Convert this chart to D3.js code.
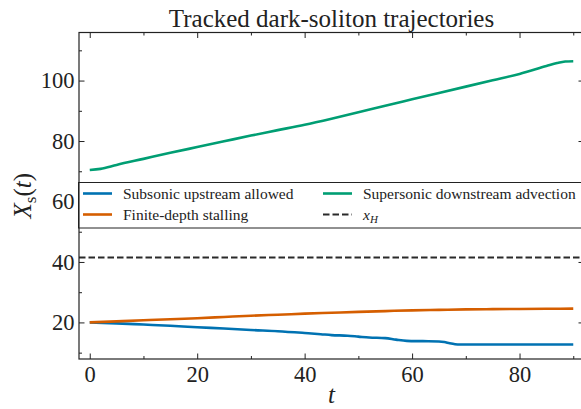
<!DOCTYPE html>
<html>
<head>
<meta charset="utf-8">
<script src="https://cdn.jsdelivr.net/npm/d3@7"></script>
<style>
  body { margin: 0; background: #fff; }
  svg { display: block; }
  text { font-family: "Liberation Serif", "DejaVu Serif", serif; fill: #222; }
</style>
</head>
<body>
<div id="chart"></div>
<script>
// Data
var subsonicT = [0, 5, 10, 15, 20, 25, 30, 35, 40, 43, 45, 48, 50, 52, 55, 57, 59, 62, 65, 66, 67, 68, 69, 75, 80, 90];
var subsonicX = [20.0, 19.7, 19.3, 18.9, 18.4, 18.0, 17.5, 17.1, 16.5, 16.1, 15.8, 15.6, 15.3, 15.0, 14.8, 14.3, 13.9, 13.8, 13.7, 13.5, 13.1, 12.8, 12.7, 12.7, 12.7, 12.7];

var stallingT = [0, 5, 10, 15, 20, 25, 30, 35, 40, 45, 50, 55, 60, 65, 70, 75, 80, 85, 90];
var stallingX = [20.0, 20.35, 20.7, 21.05, 21.4, 21.8, 22.2, 22.55, 22.9, 23.2, 23.5, 23.75, 24.0, 24.15, 24.3, 24.4, 24.45, 24.5, 24.55];

var supersonicT = [0, 2, 5, 10, 15, 20, 25, 30, 35, 40, 45, 50, 55, 60, 65, 70, 75, 80, 85, 87, 88.5, 90];
var supersonicX = [70.4, 70.8, 72.1, 74.1, 76.1, 78.0, 79.9, 81.8, 83.6, 85.4, 87.4, 89.5, 91.7, 93.8, 95.9, 98.0, 100.1, 102.2, 104.8, 105.8, 106.3, 106.4];

var horizonX = 41.5;

var xMajorTicks = [0, 20, 40, 60, 80];
var xMinorTicks = [10, 30, 50, 70, 90];
var yMajorTicks = [20, 40, 60, 80, 100];
var yMinorTicks = [10, 30, 50, 70, 90, 110];

var seriesNames = ["Subsonic upstream allowed", "Finite-depth stalling", "Supersonic downstream advection"];
var seriesColors = ["#0072b2", "#d55e00", "#009e73"];

// SVG area
var svgWidth = 581;
var svgHeight = 409;

// Plot box in pixels (right spine sits just past the picture edge)
var plot = { left: 79, right: 584, top: 32.5, bottom: 359 };

var svg = d3.select("#chart")
  .append("svg")
  .attr("width", svgWidth)
  .attr("height", svgHeight);

var xScale = d3.scaleLinear().domain([-2, 92]).range([plot.left, plot.right]);
var yScale = d3.scaleLinear().domain([7.9, 115.9]).range([plot.bottom, plot.top]);

// Lines
var line = d3.line()
  .x(d => xScale(d[0]))
  .y(d => yScale(d[1]))
  .curve(d3.curveMonotoneX);

var series = [
  d3.zip(subsonicT, subsonicX),
  d3.zip(stallingT, stallingX),
  d3.zip(supersonicT, supersonicX)
];

var lineGroup = svg.append("g");

// horizon marker
lineGroup.append("line")
  .attr("x1", plot.left)
  .attr("x2", plot.right)
  .attr("y1", yScale(horizonX))
  .attr("y2", yScale(horizonX))
  .attr("stroke", "#2a2a2a")
  .attr("stroke-width", 2)
  .attr("stroke-dasharray", "6.5,3");

lineGroup.selectAll("path.series")
  .data(series)
  .enter()
  .append("path")
  .attr("class", "series")
  .attr("d", line)
  .attr("fill", "none")
  .attr("stroke", (d, i) => seriesColors[i])
  .attr("stroke-width", 2.6);

// Ticks pointing inward on all four sides
function tickAxis(axisFn, scale, values, size, withLabels, transform) {
  var ax = axisFn(scale)
    .tickValues(values)
    .tickSizeInner(-size)
    .tickSizeOuter(0)
    .tickPadding(withLabels ? 7 : 0);
  if (!withLabels) ax.tickFormat("");
  var g = svg.append("g").attr("transform", transform).call(ax);
  g.select(".domain").remove();
  g.selectAll("line").attr("stroke", "#222").attr("stroke-width", 1);
  return g;
}

var bottomG = tickAxis(d3.axisBottom, xScale, xMajorTicks, 5.5, true, `translate(0, ${plot.bottom})`);
tickAxis(d3.axisBottom, xScale, xMinorTicks, 3, false, `translate(0, ${plot.bottom})`);
tickAxis(d3.axisTop, xScale, xMajorTicks, 5.5, false, `translate(0, ${plot.top})`);
tickAxis(d3.axisTop, xScale, xMinorTicks, 3, false, `translate(0, ${plot.top})`);

var leftG = tickAxis(d3.axisLeft, yScale, yMajorTicks, 5.5, true, `translate(${plot.left}, 0)`);
tickAxis(d3.axisLeft, yScale, yMinorTicks, 3, false, `translate(${plot.left}, 0)`);
tickAxis(d3.axisRight, yScale, yMajorTicks, 5.5, false, `translate(${plot.right}, 0)`);
tickAxis(d3.axisRight, yScale, yMinorTicks, 3, false, `translate(${plot.right}, 0)`);

bottomG.selectAll("text").style("font-size", "22.5px").attr("fill", "#222");
leftG.selectAll("text").style("font-size", "22.5px").attr("fill", "#222").attr("x", -4.5);

// Legend box across the middle of the axes
var legend = svg.append("g");
legend.append("rect")
  .attr("x", 78.5)
  .attr("y", 182.5)
  .attr("width", 510)
  .attr("height", 45.5)
  .attr("fill", "#fff")
  .attr("stroke", "#222")
  .attr("stroke-width", 1);

var legendItems = [
  { name: seriesNames[0], color: seriesColors[0], col: 0, row: 0, dash: null },
  { name: seriesNames[1], color: seriesColors[1], col: 0, row: 1, dash: null },
  { name: seriesNames[2], color: seriesColors[2], col: 1, row: 0, dash: null },
  { name: "x_H", color: "#2a2a2a", col: 1, row: 1, dash: "6.5,3" }
];
var colX = [83, 323];
var rowY = [193.5, 214.5];

legendItems.forEach(function(item) {
  var x0 = colX[item.col];
  var y0 = rowY[item.row];
  legend.append("line")
    .attr("x1", x0).attr("x2", x0 + 29)
    .attr("y1", y0).attr("y2", y0)
    .attr("stroke", item.color)
    .attr("stroke-width", item.dash ? 2 : 2.6)
    .attr("stroke-dasharray", item.dash);
  var label = legend.append("text")
    .attr("x", x0 + 40)
    .attr("y", y0 + 5)
    .style("font-size", "15.5px");
  if (item.name === "x_H") {
    label.append("tspan").style("font-style", "italic").text("x");
    label.append("tspan").style("font-style", "italic").style("font-size", "11px")
      .attr("dy", 3).text("H");
  } else {
    label.text(item.name);
  }
});

// Frame
svg.append("rect")
  .attr("x", plot.left)
  .attr("y", plot.top)
  .attr("width", plot.right - plot.left)
  .attr("height", plot.bottom - plot.top)
  .attr("fill", "none")
  .attr("stroke", "#222")
  .attr("stroke-width", 1.2);

// Title and axis labels
svg.append("text")
  .attr("x", (plot.left + plot.right) / 2)
  .attr("y", 27)
  .attr("text-anchor", "middle")
  .style("font-size", "25px")
  .text("Tracked dark-soliton trajectories");

svg.append("text")
  .attr("x", (plot.left + plot.right) / 2)
  .attr("y", 403)
  .attr("text-anchor", "middle")
  .style("font-size", "25px")
  .style("font-style", "italic")
  .text("t");

var yLabel = svg.append("text")
  .attr("transform", `translate(31, ${(plot.top + plot.bottom) / 2}) rotate(-90)`)
  .attr("text-anchor", "middle")
  .style("font-size", "25px");
yLabel.append("tspan").style("font-style", "italic").text("X");
yLabel.append("tspan").style("font-size", "17px").attr("dy", 5).text("s");
yLabel.append("tspan").attr("dy", -5).text("(");
yLabel.append("tspan").style("font-style", "italic").text("t");
yLabel.append("tspan").text(")");
</script>
</body>
</html>
